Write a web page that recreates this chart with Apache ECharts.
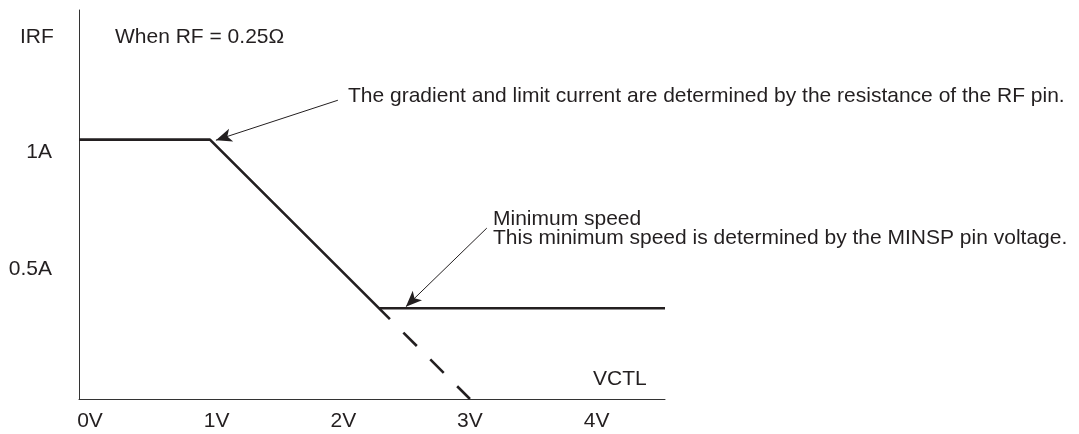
<!DOCTYPE html>
<html>
<head>
<meta charset="utf-8">
<script src="https://cdn.jsdelivr.net/npm/echarts@6/dist/echarts.min.js"></script>
<style>
  html, body { margin: 0; padding: 0; background: #fff; }
  #chart { width: 1079px; height: 434px; }
</style>
</head>
<body>
<div id="chart"></div>
<script>
// ticks
var xTickValues = [0, 1, 2, 3, 4];
var xTickLabels = ['0V', '1V', '2V', '3V', '4V'];
var yTickValues = [1, 0.5];
var yTickLabels = ['1A', '0.5A'];

// IRF curve (V, A)
var limitLine = [[-0.087, 1], [0.947, 1], [2.368, 0.308]];
var extrapolated = [[2.368, 0.308], [3, 0]];
var minSpeedLine = [[2.283, 0.35], [4.54, 0.35]];

// arrows: [from, to]
var arrowGradient = [[1.957, 1.152], [0.994, 0.998]];
var arrowMinSpeed = [[3.133, 0.659], [2.494, 0.356]];

var ink = '#231f20';
var font = "'Liberation Sans', Arial, sans-serif";
var fs = 21;

var myChart = echarts.init(document.getElementById('chart'));

function note(text, left, top) {
    return { type: 'text', left: left, top: top, style: { text: text, fill: ink, font: fs + 'px ' + font } };
}

var option = {
    animation: false,
    grid: { left: 79, right: 414, top: 10, bottom: 35 },
    xAxis: {
        type: 'value',
        min: -0.087,
        max: 4.54,
        axisLine: { show: true, lineStyle: { color: '#333', width: 1 } },
        axisTick: { show: false },
        splitLine: { show: false },
        axisLabel: {
            customValues: xTickValues,
            margin: 12,
            color: ink,
            fontFamily: font,
            fontSize: fs,
            formatter: function (v) {
                var i = xTickValues.indexOf(v);
                return i >= 0 ? xTickLabels[i] : '';
            }
        }
    },
    yAxis: {
        type: 'value',
        min: 0,
        max: 1.5,
        axisLine: { show: true, onZero: false, lineStyle: { color: '#333', width: 1 } },
        axisTick: { show: false },
        splitLine: { show: false },
        axisLabel: {
            customValues: yTickValues,
            margin: 27,
            color: ink,
            fontFamily: font,
            fontSize: fs,
            formatter: function (v) {
                var i = yTickValues.indexOf(v);
                if (i < 0) return '';
                // the 1A label sits a little below its level in the original
                return i === 0 ? '{low|' + yTickLabels[i] + '}' : yTickLabels[i];
            },
            rich: {
                low: { color: ink, fontFamily: font, fontSize: fs, padding: [26, 0, 0, 0] }
            }
        }
    },
    series: [
        {
            name: 'limit',
            type: 'line',
            data: limitLine,
            symbol: 'none',
            lineStyle: { color: ink, width: 2.6 },
            markLine: {
                silent: true,
                symbol: ['none', 'arrow'],
                symbolSize: [10, 16],
                label: { show: false },
                lineStyle: { color: ink, width: 1, type: 'solid' },
                data: [
                    [{ coord: arrowGradient[0] }, { coord: arrowGradient[1] }],
                    [{ coord: arrowMinSpeed[0] }, { coord: arrowMinSpeed[1] }]
                ]
            }
        },
        {
            name: 'extrapolated',
            type: 'line',
            data: extrapolated,
            symbol: 'none',
            lineStyle: { color: ink, width: 2.6, type: [19, 19], dashOffset: 19 }
        },
        {
            name: 'minimum speed',
            type: 'line',
            data: minSpeedLine,
            symbol: 'none',
            lineStyle: { color: ink, width: 2.6 }
        }
    ],
    graphic: [
        note('IRF', 20, 27),
        note('When RF = 0.25Ω', 115, 27),
        note('The gradient and limit current are determined by the resistance of the RF pin.', 348, 86),
        note('Minimum speed', 493, 209),
        note('This minimum speed is determined by the MINSP pin voltage.', 493, 228),
        note('VCTL', 593, 369)
    ]
};

myChart.setOption(option);
</script>
</body>
</html>
